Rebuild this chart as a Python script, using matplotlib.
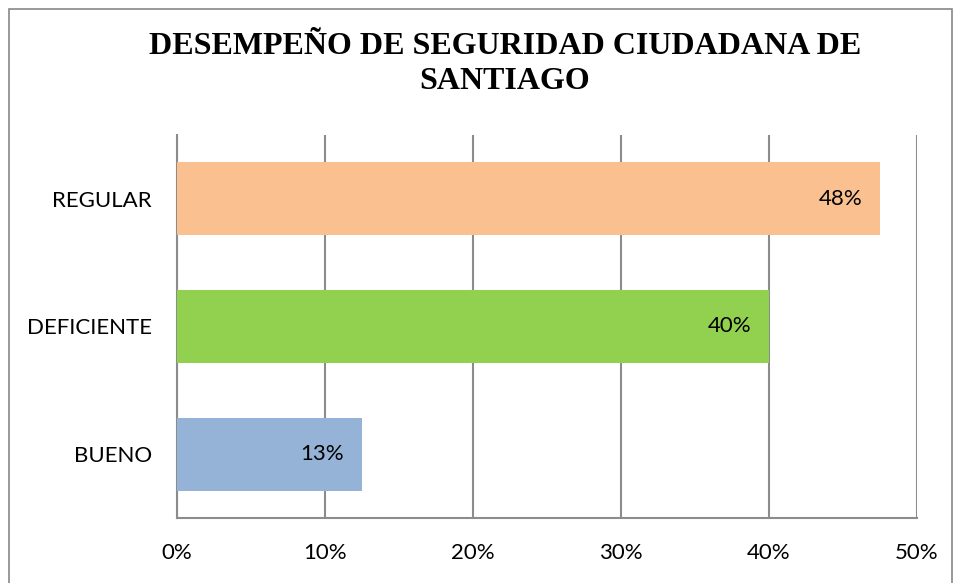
import matplotlib.pyplot as plt
from matplotlib.patches import Rectangle

categorias = ['BUENO', 'DEFICIENTE', 'REGULAR']
valores = [12.5, 40.0, 47.5]
etiquetas = ['13%', '40%', '48%']
colores = ['#95B3D7', '#92D050', '#FAC090']
ticks_x = [0, 10, 20, 30, 40, 50]
titulo = 'DESEMPEÑO DE SEGURIDAD CIUDADANA DE\nSANTIAGO'

fuente = ['Lato', 'DejaVu Sans']

fig = plt.figure(figsize=(9.56, 5.83), dpi=100)
ax = fig.add_axes([177 / 956, 1 - 518 / 583, 740 / 956, 383 / 583])

# borde del gráfico
fig.patches.append(Rectangle((9 / 956, -0.05), 943 / 956, 1 - 9 / 583 + 0.05,
                             transform=fig.transFigure, fill=False,
                             edgecolor='#888888', linewidth=1.2))

y = range(len(categorias))
ax.barh(y, valores, height=0.57, color=colores, zorder=3)

for i, (v, txt) in enumerate(zip(valores, etiquetas)):
    ax.text(v - 1.2, i, txt, ha='right', va='center', fontsize=16,
            family=fuente, color='black', zorder=4)

ax.set_xlim(0, 50)
ax.set_ylim(-0.5, 2.5)
ax.set_xticks(ticks_x)
ax.set_xticklabels([f'{t}%' for t in ticks_x], fontsize=16, family=fuente)
ax.set_yticks(list(y))
ax.set_yticklabels(categorias, fontsize=16, family=fuente)
ax.tick_params(axis='both', length=0)
ax.tick_params(axis='x', pad=18)
ax.tick_params(axis='y', pad=18)

ax.grid(axis='x', color='#8C8C8C', linewidth=1.5, zorder=0)
for s in ['top', 'right']:
    ax.spines[s].set_visible(False)
for s in ['left', 'bottom']:
    ax.spines[s].set_color('#8C8C8C')
    ax.spines[s].set_linewidth(1.5)

fig.text(505 / 956, 1 - 64 / 583, titulo, ha='center', va='center',
         fontsize=23, fontweight='bold', family=['Liberation Serif', 'DejaVu Serif'],
         linespacing=1.3)

fig.savefig('out.png', dpi=100)
